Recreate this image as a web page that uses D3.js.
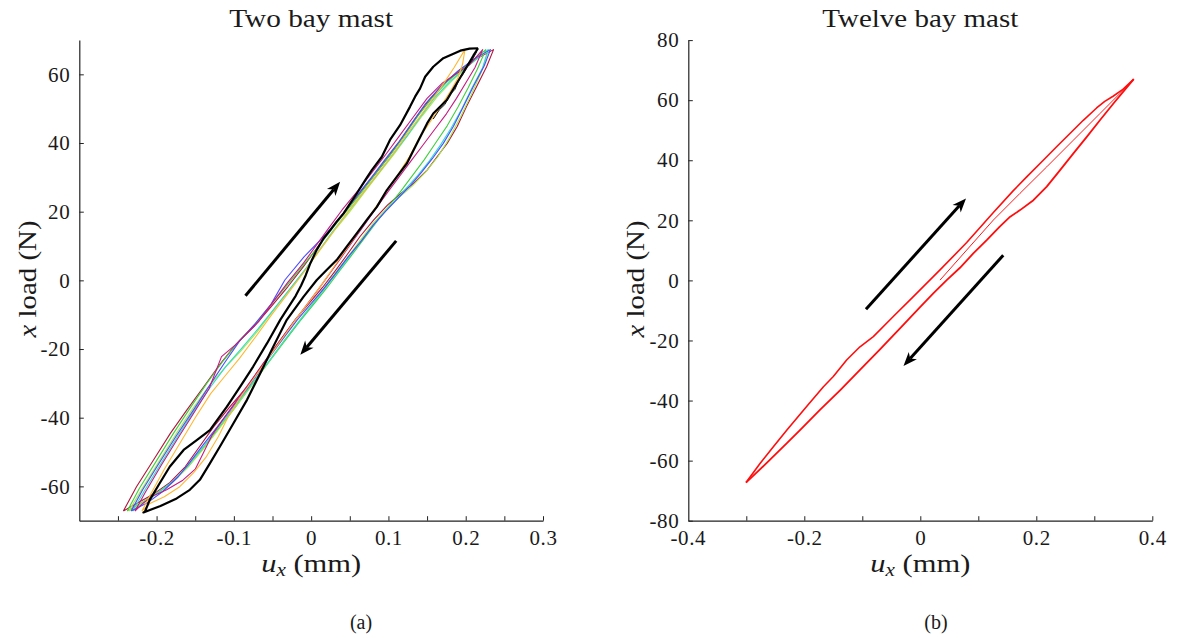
<!DOCTYPE html>
<html>
<head>
<meta charset="utf-8">
<script src="https://cdn.jsdelivr.net/npm/d3@7"></script>
<style>
  body { margin: 0; background: #fff; }
  svg { display: block; }
  text { font-family: "Liberation Serif", "Times New Roman", serif; fill: #1a1a1a; }
</style>
</head>
<body>
<svg id="chart" width="1177" height="638"></svg>
<script>
// ---------- Panel (a): two bay mast, displacement (mm) vs load (N) ----------
const xDomainA = [-0.3, 0.3];
const yDomainA = [-70, 70];
const xTicksA = [-0.25, -0.2, -0.15, -0.1, -0.05, 0, 0.05, 0.1, 0.15, 0.2, 0.25, 0.3];
const xTickLabelsA = ["", "-0.2", "", "-0.1", "", "0", "", "0.1", "", "0.2", "", "0.3"];
const yTicksA = [-60, -40, -20, 0, 20, 40, 60];
const yTickLabelsA = ["-60", "-40", "-20", "0", "20", "40", "60"];

// load cycles, each traced tip -> upper branch -> peak -> lower branch -> tip
const cycleDarkRed = [[-0.243,-67.2],[-0.226,-60.1],[-0.204,-52.3],[-0.182,-44.5],[-0.161,-37.8],[-0.139,-31.0],[-0.117,-24.2],[-0.097,-18.6],[-0.074,-13.5],[-0.052,-7.7],[-0.030,-1.8],[-0.010,4.0],[0.006,9.0],[0.022,14.0],[0.042,19.5],[0.063,25.5],[0.083,31.0],[0.101,36.3],[0.118,41.5],[0.135,47.2],[0.152,52.3],[0.170,57.0],[0.192,61.2],[0.214,64.5],[0.236,67.2],
  [0.227,62.2],[0.214,56.4],[0.201,50.6],[0.189,44.8],[0.176,39.9],[0.163,36.0],[0.150,32.1],[0.133,28.3],[0.116,25.3],[0.099,22.0],[0.081,17.6],[0.063,12.7],[0.046,7.3],[0.030,2.4],[0.015,-2.0],[0.000,-6.0],[-0.020,-11.3],[-0.040,-17.4],[-0.062,-24.2],[-0.083,-31.0],[-0.105,-36.8],[-0.126,-42.6],[-0.145,-48.6],[-0.163,-54.3],[-0.183,-58.9],[-0.205,-62.4],[-0.226,-65.0],[-0.243,-67.2]];
const cycleBlue = [[-0.233,-67.2],[-0.218,-61.0],[-0.196,-53.0],[-0.175,-45.5],[-0.153,-38.0],[-0.132,-30.8],[-0.112,-24.0],[-0.092,-17.5],[-0.072,-12.5],[-0.052,-7.0],[-0.034,0.1],[-0.009,6.9],[0.016,12.7],[0.037,18.2],[0.058,24.3],[0.078,30.0],[0.096,35.3],[0.114,40.5],[0.131,46.0],[0.148,51.5],[0.168,56.5],[0.190,61.0],[0.211,64.5],[0.232,67.2],
  [0.224,62.5],[0.210,56.5],[0.197,50.6],[0.184,44.8],[0.171,39.9],[0.157,35.5],[0.143,31.5],[0.128,27.5],[0.112,23.8],[0.096,20.0],[0.080,16.0],[0.065,11.5],[0.048,6.9],[0.030,1.5],[0.016,-2.5],[0.001,-6.5],[-0.018,-11.5],[-0.038,-17.5],[-0.060,-24.2],[-0.081,-31.0],[-0.102,-37.0],[-0.122,-42.8],[-0.140,-48.0],[-0.157,-53.0],[-0.172,-57.2],[-0.192,-61.5],[-0.212,-64.8],[-0.233,-67.2]];
const cycleGreen = [[-0.238,-67.2],[-0.222,-60.5],[-0.200,-52.5],[-0.178,-44.5],[-0.156,-37.0],[-0.135,-30.0],[-0.114,-23.5],[-0.094,-17.8],[-0.073,-12.8],[-0.051,-6.8],[-0.029,-0.8],[-0.008,5.0],[0.010,10.0],[0.027,15.0],[0.047,20.5],[0.067,26.2],[0.086,31.8],[0.104,37.0],[0.121,42.3],[0.138,47.8],[0.156,53.0],[0.176,57.8],[0.198,62.0],[0.226,67.2],
  [0.215,61.5],[0.203,56.0],[0.190,50.5],[0.176,45.0],[0.161,40.0],[0.146,35.0],[0.131,30.5],[0.116,26.0],[0.100,21.5],[0.084,16.8],[0.068,12.0],[0.052,7.2],[0.036,2.5],[0.021,-2.0],[0.005,-6.5],[-0.015,-12.0],[-0.036,-18.2],[-0.058,-24.8],[-0.079,-31.2],[-0.100,-37.5],[-0.121,-43.5],[-0.140,-49.0],[-0.158,-54.0],[-0.178,-58.5],[-0.200,-62.0],[-0.220,-64.8],[-0.238,-67.2]];
const cycleLightGreen = [[-0.236,-67.2],[-0.219,-60.8],[-0.197,-52.8],[-0.175,-44.8],[-0.153,-37.3],[-0.133,-31.0],[-0.113,-25.8],[-0.092,-20.8],[-0.070,-15.0],[-0.049,-8.8],[-0.027,-2.5],[-0.006,3.5],[0.012,9.0],[0.030,14.5],[0.050,20.0],[0.070,26.0],[0.090,31.8],[0.108,37.0],[0.126,42.5],[0.144,48.0],[0.163,53.5],[0.184,58.5],[0.205,62.8],[0.230,67.2],
  [0.220,60.5],[0.207,54.0],[0.193,47.5],[0.179,41.5],[0.164,36.0],[0.148,31.5],[0.131,27.5],[0.113,24.0],[0.096,20.5],[0.080,16.5],[0.064,11.8],[0.048,7.0],[0.032,2.3],[0.017,-2.2],[0.002,-6.7],[-0.017,-12.2],[-0.038,-18.5],[-0.059,-25.0],[-0.080,-31.5],[-0.101,-37.8],[-0.121,-43.8],[-0.141,-49.5],[-0.160,-54.5],[-0.180,-59.0],[-0.201,-62.3],[-0.220,-65.0],[-0.236,-67.2]];
const cycleCyan = [[-0.231,-67.2],[-0.215,-61.0],[-0.194,-53.2],[-0.172,-45.2],[-0.150,-37.5],[-0.130,-31.0],[-0.110,-25.0],[-0.090,-19.8],[-0.069,-14.2],[-0.048,-8.3],[-0.027,-2.3],[-0.006,3.7],[0.011,9.0],[0.028,14.3],[0.048,20.0],[0.068,25.8],[0.088,31.5],[0.106,36.8],[0.124,42.0],[0.141,47.5],[0.159,53.0],[0.180,58.0],[0.203,62.5],[0.229,67.2],
  [0.222,62.0],[0.208,56.0],[0.195,50.0],[0.181,44.3],[0.167,39.3],[0.153,34.8],[0.138,30.6],[0.122,26.6],[0.106,22.6],[0.089,18.4],[0.072,13.6],[0.055,8.6],[0.039,3.8],[0.023,-0.8],[0.007,-5.5],[-0.013,-11.2],[-0.035,-17.6],[-0.057,-24.3],[-0.079,-30.8],[-0.100,-37.0],[-0.121,-43.0],[-0.140,-48.6],[-0.159,-53.8],[-0.178,-58.4],[-0.199,-62.0],[-0.217,-64.8],[-0.231,-67.2]];
const cycleMagenta = [[-0.228,-67.2],[-0.214,-61.5],[-0.193,-53.5],[-0.171,-45.5],[-0.150,-38.0],[-0.132,-31.5],[-0.116,-22.2],[-0.098,-18.8],[-0.083,-15.4],[-0.068,-12.0],[-0.050,-6.5],[-0.030,-0.5],[-0.010,5.0],[0.006,10.0],[0.022,15.0],[0.040,20.5],[0.060,26.0],[0.079,31.5],[0.097,36.8],[0.114,42.0],[0.132,47.5],[0.150,53.0],[0.170,57.5],[0.190,60.5],[0.205,62.8],[0.222,67.2],
  [0.212,62.0],[0.200,57.5],[0.188,53.0],[0.175,48.5],[0.160,44.0],[0.145,39.5],[0.130,35.0],[0.115,30.5],[0.100,26.0],[0.085,21.3],[0.070,16.5],[0.055,11.8],[0.040,7.0],[0.025,2.3],[0.010,-2.4],[-0.007,-7.5],[-0.027,-13.5],[-0.048,-20.0],[-0.069,-26.5],[-0.090,-33.0],[-0.111,-39.5],[-0.128,-45.0],[-0.140,-50.5],[-0.150,-55.0],[-0.166,-58.2],[-0.187,-61.0],[-0.205,-62.8],[-0.218,-65.0],[-0.228,-67.2]];
const cycleOrange = [[-0.219,-67.2],[-0.207,-62.0],[-0.190,-55.0],[-0.170,-47.5],[-0.150,-40.0],[-0.130,-33.0],[-0.112,-28.0],[-0.093,-22.8],[-0.072,-16.5],[-0.051,-10.0],[-0.029,-3.5],[-0.008,2.8],[0.010,8.5],[0.028,14.0],[0.047,19.8],[0.067,25.5],[0.087,31.3],[0.105,36.5],[0.122,42.0],[0.140,47.5],[0.158,53.0],[0.172,57.5],[0.185,62.0],[0.199,67.2],
  [0.196,63.0],[0.190,59.0],[0.180,55.0],[0.168,50.8],[0.155,46.5],[0.140,41.5],[0.127,36.0],[0.113,31.0],[0.099,26.5],[0.085,21.8],[0.071,17.3],[0.057,12.8],[0.043,8.3],[0.029,3.8],[0.015,-0.8],[0.000,-5.5],[-0.017,-10.5],[-0.036,-16.5],[-0.055,-22.5],[-0.074,-28.5],[-0.093,-34.5],[-0.108,-40.0],[-0.120,-45.5],[-0.136,-51.5],[-0.152,-56.0],[-0.170,-60.1],[-0.190,-63.0],[-0.208,-64.9],[-0.219,-67.2]];
const cycleBlack = [[0.216,67.6],[0.205,67.5],[0.193,66.9],[0.171,64.7],[0.158,62.2],[0.1475,59.3],[0.141,55.9],[0.1345,53.5],[0.128,50.6],[0.115,45.2],[0.102,40.9],[0.0915,36.0],[0.0785,32.1],[0.070,29.2],[0.059,25.3],[0.0505,22.4],[0.042,19.5],[0.033,17.1],[0.025,14.7],[0.016,12.2],[0.007,8.8],[-0.001,5.0],[-0.007,1.5],[-0.013,-1.5],[-0.020,-4.5],[-0.030,-8.0],[-0.040,-11.5],[-0.057,-18.3],[-0.075,-25.1],[-0.092,-31.0],[-0.109,-36.8],[-0.131,-43.6],[-0.148,-46.5],[-0.165,-49.4],[-0.183,-54.3],[-0.196,-59.1],[-0.209,-64.0],[-0.2151,-67.4],[-0.217,-67.6],
  [-0.195,-65.7],[-0.174,-63.5],[-0.157,-61.0],[-0.144,-58.1],[-0.131,-53.3],[-0.118,-48.4],[-0.1005,-41.6],[-0.083,-34.8],[-0.066,-27.1],[-0.049,-19.3],[-0.0315,-11.5],[-0.010,-4.8],[0.0073,0.1],[0.020,3.0],[0.033,5.9],[0.046,9.8],[0.059,13.7],[0.072,17.6],[0.085,21.4],[0.098,26.3],[0.111,30.2],[0.124,34.1],[0.137,39.9],[0.150,45.7],[0.158,48.6],[0.1755,52.5],[0.1885,57.4],[0.2014,62.2],[0.210,65.5],[0.216,67.6]];
const cycleBlackRepeat = [[0.214,66.5],[0.208,64.0],[0.203,62.6],[0.197,60.2],[0.192,58.8],[0.186,55.6],[0.180,54.2],[0.173,51.2],[0.166,49.7],[0.158,47.0]];

const cyclesA = [cycleDarkRed, cycleGreen, cycleLightGreen, cycleCyan, cycleBlue, cycleMagenta, cycleOrange];
const cycleColorsA = ["#b0143a", "#3fcf3f", "#a6e84e", "#2fdccb", "#4b4bff", "#c41a80", "#ffb732"];

// direction arrows [tail, tip]
const arrowsA = [[[-0.085, -4.5], [0.0375, 28.7]], [[0.110, 11.5], [-0.014, -21.7]]];

// ---------- Panel (b): twelve bay mast ----------
const xDomainB = [-0.4, 0.4];
const yDomainB = [-80, 80];
const xTicksB = [-0.3, -0.2, -0.1, 0, 0.1, 0.2, 0.3, 0.4];
const xTickLabelsB = ["", "-0.2", "", "0", "", "0.2", "", "0.4"];
const xEdgeLabelB = "-0.4";
const yTicksB = [-80, -60, -40, -20, 0, 20, 40, 60, 80];
const yTickLabelsB = ["-80", "-60", "-40", "-20", "0", "20", "40", "60", "80"];

const firstLoadingB = [[0.034,0.1],[0.080,10.1],[0.126,20.1],[0.172,29.0],[0.218,37.8],[0.264,46.7],[0.310,55.6],[0.344,62.2],[0.368,67.0]];
const upperBranchB = [[-0.3005,-67.3],[-0.276,-60.9],[-0.253,-55.3],[-0.230,-49.8],[-0.196,-42.0],[-0.167,-35.4],[-0.150,-32.0],[-0.127,-26.5],[-0.104,-22.1],[-0.081,-18.7],[-0.047,-12.1],[-0.012,-5.4],[0.034,3.5],[0.080,12.6],[0.126,22.6],[0.160,29.8],[0.183,34.4],[0.212,40.0],[0.235,44.5],[0.258,48.9],[0.281,53.3],[0.304,57.4],[0.318,59.6],[0.333,61.4],[0.348,63.4],[0.368,67.0]];
const lowerBranchB = [[0.368,67.0],[0.333,58.9],[0.310,53.4],[0.287,47.8],[0.264,42.3],[0.241,36.7],[0.218,31.2],[0.195,26.7],[0.172,23.4],[0.155,21.2],[0.137,17.9],[0.1145,13.4],[0.0914,9.0],[0.0684,4.2],[0.0455,0.1],[0.0224,-4.3],[0.000,-8.8],[-0.035,-16.0],[-0.0695,-23.0],[-0.104,-29.8],[-0.138,-36.5],[-0.173,-43.1],[-0.207,-49.8],[-0.230,-54.2],[-0.259,-59.7],[-0.3005,-67.3]];

const arrowsB = [[[-0.0937, -9.6], [0.0788, 27.3]], [[0.143, 8.4], [-0.029, -28.5]]];

// ---------- drawing ----------
const FONT = "Liberation Serif, Times New Roman, serif";
const svg = d3.select("#chart");

function arrow(g, p0, p1) {
  const dx = p1[0] - p0[0], dy = p1[1] - p0[1];
  const L = Math.hypot(dx, dy), ux = dx / L, uy = dy / L, nx = -uy, ny = ux;
  const len = 14, half = 5.5, notch = 4;
  const bx = p1[0] - ux * len, by = p1[1] - uy * len;
  g.append("line")
    .attr("x1", p0[0]).attr("y1", p0[1])
    .attr("x2", p1[0] - ux * (len - notch)).attr("y2", p1[1] - uy * (len - notch))
    .attr("stroke", "#000").attr("stroke-width", 3);
  g.append("path")
    .attr("d", `M${p1[0]},${p1[1]}L${bx + nx * half},${by + ny * half}L${p1[0] - ux * (len - notch)},${p1[1] - uy * (len - notch)}L${bx - nx * half},${by - ny * half}Z`)
    .attr("fill", "#000");
}

function styleAxis(g, size) {
  g.attr("font-family", FONT);
  g.select(".domain").attr("stroke", "#222").attr("stroke-width", 1.2);
  g.selectAll(".tick line").attr("stroke", "#222").attr("stroke-width", 1);
  g.selectAll(".tick text").attr("font-size", size).attr("fill", "#1a1a1a")
    .attr("font-family", FONT).attr("letter-spacing", 0.6);
}

function titles(cx, title, titleLen, ylabX, xlabY, caption, captionX) {
  svg.append("text").attr("x", cx).attr("y", 27).attr("text-anchor", "middle")
    .attr("font-family", FONT).attr("font-size", 25)
    .attr("textLength", titleLen).attr("lengthAdjust", "spacingAndGlyphs")
    .text(title);
  const xl = svg.append("text").attr("x", cx).attr("y", xlabY).attr("text-anchor", "middle")
    .attr("font-family", FONT).attr("font-size", 26)
    .attr("textLength", 100).attr("lengthAdjust", "spacingAndGlyphs");
  xl.append("tspan").attr("font-style", "italic").text("u");
  xl.append("tspan").attr("font-style", "italic").attr("font-size", 18).attr("dy", 4).text("x");
  xl.append("tspan").attr("dy", -4).text(" (mm)");
  const yl = svg.append("text").attr("transform", `translate(${ylabX},279) rotate(-90)`)
    .attr("text-anchor", "middle").attr("font-family", FONT).attr("font-size", 26)
    .attr("textLength", 117).attr("lengthAdjust", "spacingAndGlyphs");
  yl.append("tspan").attr("font-style", "italic").text("x");
  yl.append("tspan").text(" load (N)");
  svg.append("text").attr("x", captionX).attr("y", 629).attr("text-anchor", "middle")
    .attr("font-family", FONT).attr("font-size", 20).text(caption);
}

// panel (a)
const xA = d3.scaleLinear().domain(xDomainA).range([79.3, 543]);
const yA = d3.scaleLinear().domain(yDomainA).range([520.7, 40]);
const lineA = d3.line().x(d => xA(d[0])).y(d => yA(d[1]));
const gA = svg.append("g");
cyclesA.forEach((c, i) => {
  gA.append("path").attr("d", lineA(c)).attr("fill", "none")
    .attr("stroke", cycleColorsA[i]).attr("stroke-width", 1.1).attr("stroke-linejoin", "round");
});
gA.append("path").attr("d", lineA(cycleBlack)).attr("fill", "none")
  .attr("stroke", "#000").attr("stroke-width", 2.2).attr("stroke-linejoin", "round");
gA.append("path").attr("d", lineA(cycleBlackRepeat)).attr("fill", "none")
  .attr("stroke", "#111").attr("stroke-width", 1).attr("stroke-linejoin", "round");
arrowsA.forEach(a => arrow(gA, [xA(a[0][0]), yA(a[0][1])], [xA(a[1][0]), yA(a[1][1])]));

const axXA = svg.append("g").attr("transform", `translate(0,${yA.range()[0]})`)
  .call(d3.axisBottom(xA).tickValues(xTicksA).tickFormat((d, i) => xTickLabelsA[i])
    .tickSizeInner(-4.5).tickSizeOuter(0).tickPadding(9));
styleAxis(axXA, 21);
const axYA = svg.append("g").attr("transform", `translate(${xA.range()[0]},0)`)
  .call(d3.axisLeft(yA).tickValues(yTicksA).tickFormat((d, i) => yTickLabelsA[i])
    .tickSizeInner(-4.5).tickSizeOuter(0).tickPadding(9));
styleAxis(axYA, 21);
titles((xA.range()[0] + xA.range()[1]) / 2, "Two bay mast", 164, 36, 571.7, "(a)", 361);

// panel (b)
const xB = d3.scaleLinear().domain(xDomainB).range([688.3, 1152.3]);
const yB = d3.scaleLinear().domain(yDomainB).range([520.7, 40.1]);
const lineB = d3.line().x(d => xB(d[0])).y(d => yB(d[1]));
const gB = svg.append("g");
gB.append("path").attr("d", lineB(firstLoadingB)).attr("fill", "none")
  .attr("stroke", "#ff1a1a").attr("stroke-width", 1);
gB.append("path").attr("d", lineB(upperBranchB)).attr("fill", "none")
  .attr("stroke", "#ff0d0d").attr("stroke-width", 1.6).attr("stroke-linejoin", "round");
gB.append("path").attr("d", lineB(lowerBranchB)).attr("fill", "none")
  .attr("stroke", "#ff0d0d").attr("stroke-width", 1.8).attr("stroke-linejoin", "round");
arrowsB.forEach(a => arrow(gB, [xB(a[0][0]), yB(a[0][1])], [xB(a[1][0]), yB(a[1][1])]));

const axXB = svg.append("g").attr("transform", `translate(0,${yB.range()[0]})`)
  .call(d3.axisBottom(xB).tickValues(xTicksB).tickFormat((d, i) => xTickLabelsB[i])
    .tickSizeInner(-4.5).tickSizeOuter(0).tickPadding(9));
styleAxis(axXB, 21);
// label at the axis origin, which carries no tick mark of its own
axXB.append("text").attr("x", xB(xDomainB[0])).attr("y", 9).attr("dy", "0.71em")
  .attr("text-anchor", "middle").attr("font-size", 21).attr("fill", "#1a1a1a")
  .attr("font-family", FONT).attr("letter-spacing", 0.6).text(xEdgeLabelB);
const axYB = svg.append("g").attr("transform", `translate(${xB.range()[0]},0)`)
  .call(d3.axisLeft(yB).tickValues(yTicksB).tickFormat((d, i) => yTickLabelsB[i])
    .tickSizeInner(-4.5).tickSizeOuter(0).tickPadding(9));
styleAxis(axYB, 21);
titles((xB.range()[0] + xB.range()[1]) / 2, "Twelve bay mast", 196, 644, 571.7, "(b)", 936);
</script>
</body>
</html>
